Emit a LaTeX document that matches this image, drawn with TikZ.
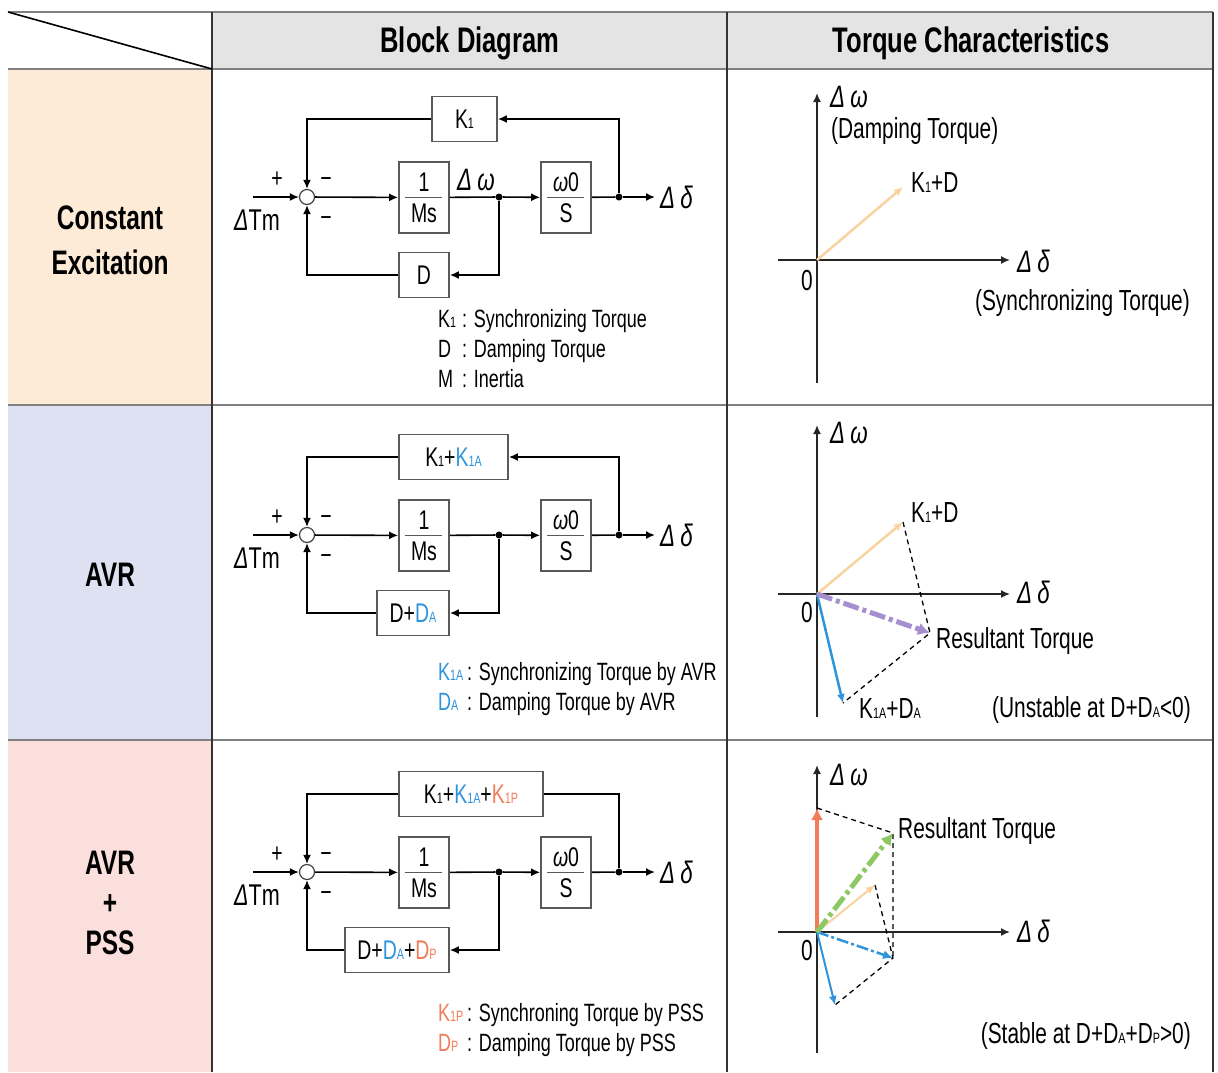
\documentclass[tikz,border=0pt]{standalone}
\usepackage{fontspec}
\setmainfont{Liberation Sans}[FakeStretch=0.72]
\usetikzlibrary{arrows.meta,positioning}

\definecolor{hdrgray}{HTML}{E4E4E4}
\definecolor{peachbg}{HTML}{FDEBD7}
\definecolor{lilacbg}{HTML}{DEE1F1}
\definecolor{pinkbg}{HTML}{FBDFDC}
\definecolor{avrblue}{HTML}{2E94DC}
\definecolor{pssred}{HTML}{F27B58}
\definecolor{kdpeach}{HTML}{F8D3A0}
\definecolor{respurple}{HTML}{A58FCF}
\definecolor{resgreen}{HTML}{8DC863}
\definecolor{gridline}{HTML}{808080}

\newcommand\ssc[1]{{\fontsize{15}{15}\selectfont #1}}
\newcommand\dlt{{\itshape Δ}}
\newcommand\colA[1]{\textcolor{avrblue}{#1}}
\newcommand\colP[1]{\textcolor{pssred}{#1}}

\tikzset{>={Latex[length=9pt,width=8pt]}}

\begin{document}
\begin{tikzpicture}[x=1pt,y=-1pt,
    blk/.style={draw=black!65,line width=1.8pt,minimum height=45pt,inner sep=0pt,font=\fontsize{27}{30}\selectfont},
    fracbox/.style={blk,minimum width=50pt,minimum height=71pt,align=center,font=\fontsize{27}{31}\selectfont,
        path picture={\draw[line width=1.6pt] ([xshift=6pt]path picture bounding box.west) -- ([xshift=-7pt]path picture bounding box.east);}},
    sig/.style={line width=1.6pt,->},
    wire/.style={line width=1.6pt},
    sumc/.style={circle,draw=black!75,fill=white,line width=1.2pt,minimum size=15pt,inner sep=0pt},
    dot/.style={circle,fill,inner sep=0pt,minimum size=7pt},
    lbl/.style={inner sep=0pt,font=\fontsize{27}{30}\selectfont},
    greek/.style={anchor=base west,inner sep=0pt,font=\fontsize{31}{34}\selectfont},
    note/.style={anchor=base west,inner sep=0pt,font=\fontsize{25}{28}\selectfont},
    tlbl/.style={anchor=base west,inner sep=0pt,font=\fontsize{29}{32}\selectfont},
    axis/.style={line width=1.6pt,draw=black!85,->},
    vec/.style={line width=2.5pt,->},
    guide/.style={line width=1.3pt,dash pattern=on 5pt off 4pt},
    hdr/.style={anchor=base,font=\fontsize{35.5}{40}\bfseries\selectfont},
    rowname/.style={align=center,font=\fontsize{34}{45}\bfseries\selectfont}]

\useasboundingbox (0,0) rectangle (1218,1072);

% table
\fill[hdrgray] (212,12) rectangle (1213,69);
\fill[peachbg] (8,69) rectangle (212,405);
\fill[lilacbg] (8,405) rectangle (212,740);
\fill[pinkbg] (8,740) rectangle (212,1072);
\foreach \y in {12,69,405,740}
    \draw[gridline,line width=2.5pt] (8,\y) -- (1213,\y);
\foreach \x in {212,727,1213}
    \draw[black!80,line width=1.4pt] (\x,12) -- (\x,1072);
\draw[line width=1.6pt] (8,12) -- (212,69);

\node[hdr] (hblock) at (470,52) {Block Diagram};
\node[hdr] (htorque) at (971,52) {Torque Characteristics};

\node[rowname] (rconst) at (110,240) {Constant\\Excitation};
\node[rowname] (ravr) at (110,575) {AVR};
\node[rowname,font=\fontsize{34}{40}\bfseries\selectfont] (rpss) at (110,903) {AVR\\+\\PSS};

% block diagrams
\foreach \r/\dy/\ktxt/\kw/\kx/\dtxt/\dw/\dx/\ka in {
    1/0/{K\ssc1}/65/464.5/{D}/50/424/sig,
    2/338/{K\ssc1+\colA{K\ssc{1A}}}/109/453.5/{D+\colA{D\ssc A}}/72/413/sig,
    3/675/{K\ssc1+\colA{K\ssc{1A}}+\colP{K\ssc{1P}}}/144/471/{D+\colA{D\ssc A}+\colP{D\ssc P}}/104/397/wire}{
  \begin{scope}[shift={(0,\dy)}]
    \coordinate (in\r) at (253,197);
    \node[sumc] (sum\r) at (307,197) {};
    \node[fracbox] (ms\r) at (424,197.5) {1\\Ms};
    \node[dot] (jw\r) at (499,197) {};
    \node[fracbox] (ws\r) at (566,197.5) {{\itshape ω}0\\S};
    \node[dot] (jd\r) at (619,197) {};
    \coordinate (out\r) at (655,197);
    \node[blk,minimum width=\kw pt] (kb\r) at (\kx,119) {\ktxt};
    \node[blk,minimum width=\dw pt] (db\r) at (\dx,275) {\dtxt};

    \node[greek] (dd\r) at (660,208) {\dlt\,{\itshape δ}};
    \node[lbl] (pl\r) at (277,180) {+};
    \node[lbl] (mt\r) at (326,183) {−};
    \node[lbl] (mb\r) at (326,222) {−};
    \node[lbl,anchor=base west,font=\fontsize{30}{32}\selectfont] (tm\r) at (234,230) {\dlt Tm};

    \draw[sig] (in\r) -- (sum\r);
    \draw[sig] (sum\r) -- (ms\r);
    \draw[wire] (ms\r) -- (jw\r);
    \draw[sig] (jw\r) -- (ws\r);
    \draw[wire] (ws\r) -- (jd\r);
    \draw[sig] (jd\r) -- (out\r);
    \draw[\ka] (jd\r) |- (kb\r);
    \draw[sig] (kb\r) -| (sum\r);
    \draw[sig] (jw\r) |- (db\r);
    \draw[sig] (db\r) -| (sum\r);
  \end{scope}
}
\node[greek] (dw1) at (457,190) {\dlt\,{\itshape ω}};

% legends
\node[note] (n11) at (438,327) {\makebox[24pt][l]{K\ssc1}: Synchronizing Torque};
\node[note] (n12) at (438,357) {\makebox[24pt][l]{D}: Damping Torque};
\node[note] (n13) at (438,387) {\makebox[24pt][l]{M}: Inertia};
\node[note] (n21) at (438,680) {\makebox[29pt][l]{\colA{K\ssc{1A}}}: Synchronizing Torque by AVR};
\node[note] (n22) at (438,710) {\makebox[29pt][l]{\colA{D\ssc A}}: Damping Torque by AVR};
\node[note] (n31) at (438,1021) {\makebox[29pt][l]{\colP{K\ssc{1P}}}: Synchroning Torque by PSS};
\node[note] (n32) at (438,1051) {\makebox[29pt][l]{\colP{D\ssc P}}: Damping Torque by PSS};

% torque chart: constant excitation
\coordinate (o1) at (817,260);
\coordinate (xl1) at (778,260);
\coordinate (xr1) at (1010,260);
\coordinate (yb1) at (817,383);
\coordinate (yt1) at (817,93);
\coordinate (kd1) at (903,187);
\draw[axis] (xl1) -- (xr1);
\draw[axis] (yb1) -- (yt1);
\draw[vec,kdpeach] (o1) -- (kd1);
\node[greek] (tw1) at (830,107) {\dlt\,{\itshape ω}};
\node[tlbl] (tdamp) at (831,138) {(Damping Torque)};
\node[tlbl] (tkd1) at (911,192) {K\ssc1+D};
\node[tlbl] (tz1) at (801,290) {0};
\node[greek] (tdd1) at (1017,272) {\dlt\,{\itshape δ}};
\node[tlbl,anchor=base east] (tsync) at (1190,310) {(Synchronizing Torque)};

% torque chart: AVR
\coordinate (o2) at (817,594);
\coordinate (xl2) at (778,594);
\coordinate (xr2) at (1010,594);
\coordinate (yb2) at (817,717);
\coordinate (yt2) at (817,425);
\coordinate (kd2) at (903,522);
\coordinate (rt2) at (930,633);
\coordinate (ka2) at (843,703);
\draw[axis] (xl2) -- (xr2);
\draw[axis] (yb2) -- (yt2);
\draw[guide] (kd2) -- (rt2) -- (ka2);
\draw[vec,kdpeach] (o2) -- (kd2);
\draw[vec,avrblue] (o2) -- (ka2);
\draw[respurple,line width=5pt,dash pattern=on 16pt off 4pt on 4pt off 4pt,-{Latex[length=12pt,width=13pt]}] (o2) -- (rt2);
\node[greek] (tw2) at (830,443) {\dlt\,{\itshape ω}};
\node[tlbl] (tkd2) at (911,522) {K\ssc1+D};
\node[tlbl] (tres2) at (936,648) {Resultant Torque};
\node[tlbl] (tka2) at (859,718) {K\ssc{1A}+D\ssc A};
\node[tlbl] (tz2) at (801,622) {0};
\node[greek] (tdd2) at (1017,603) {\dlt\,{\itshape δ}};
\node[tlbl,anchor=base east] (tunst) at (1191,717) {(Unstable at D+D\ssc A<0)};

% torque chart: AVR + PSS
\coordinate (o3) at (817,932);
\coordinate (xl3) at (778,932);
\coordinate (xr3) at (1010,932);
\coordinate (yb3) at (817,1053);
\coordinate (yt3) at (817,765);
\coordinate (kp3) at (817,808);
\coordinate (rt3) at (893,833);
\coordinate (kd3) at (875,885);
\coordinate (sa3) at (893,958);
\coordinate (ka3) at (835,1005);
\draw[axis] (xl3) -- (xr3);
\draw[axis] (yb3) -- (yt3);
\draw[guide] (kp3) -- (rt3) -- (sa3);
\draw[guide] (kd3) -- (sa3) -- (ka3);
\draw[vec,kdpeach,line width=2pt] (o3) -- (kd3);
\draw[vec,avrblue,line width=2pt] (o3) -- (ka3);
\draw[avrblue,line width=2.5pt,dash pattern=on 12pt off 3pt on 3pt off 3pt,-{Latex[length=10pt,width=9pt]}] (o3) -- (sa3);
\draw[pssred,line width=4pt,-{Latex[length=12pt,width=12pt]}] (o3) -- (kp3);
\draw[resgreen,line width=5pt,dash pattern=on 16pt off 4pt on 4pt off 4pt,-{Latex[length=12pt,width=13pt]}] (o3) -- (rt3);
\node[greek] (tw3) at (830,785) {\dlt\,{\itshape ω}};
\node[tlbl] (tres3) at (898,838) {Resultant Torque};
\node[tlbl] (tz3) at (801,960) {0};
\node[greek] (tdd3) at (1017,942) {\dlt\,{\itshape δ}};
\node[tlbl,anchor=base east] (tstab) at (1191,1043) {(Stable at D+D\ssc A+D\ssc P>0)};

\end{tikzpicture}
\end{document}
